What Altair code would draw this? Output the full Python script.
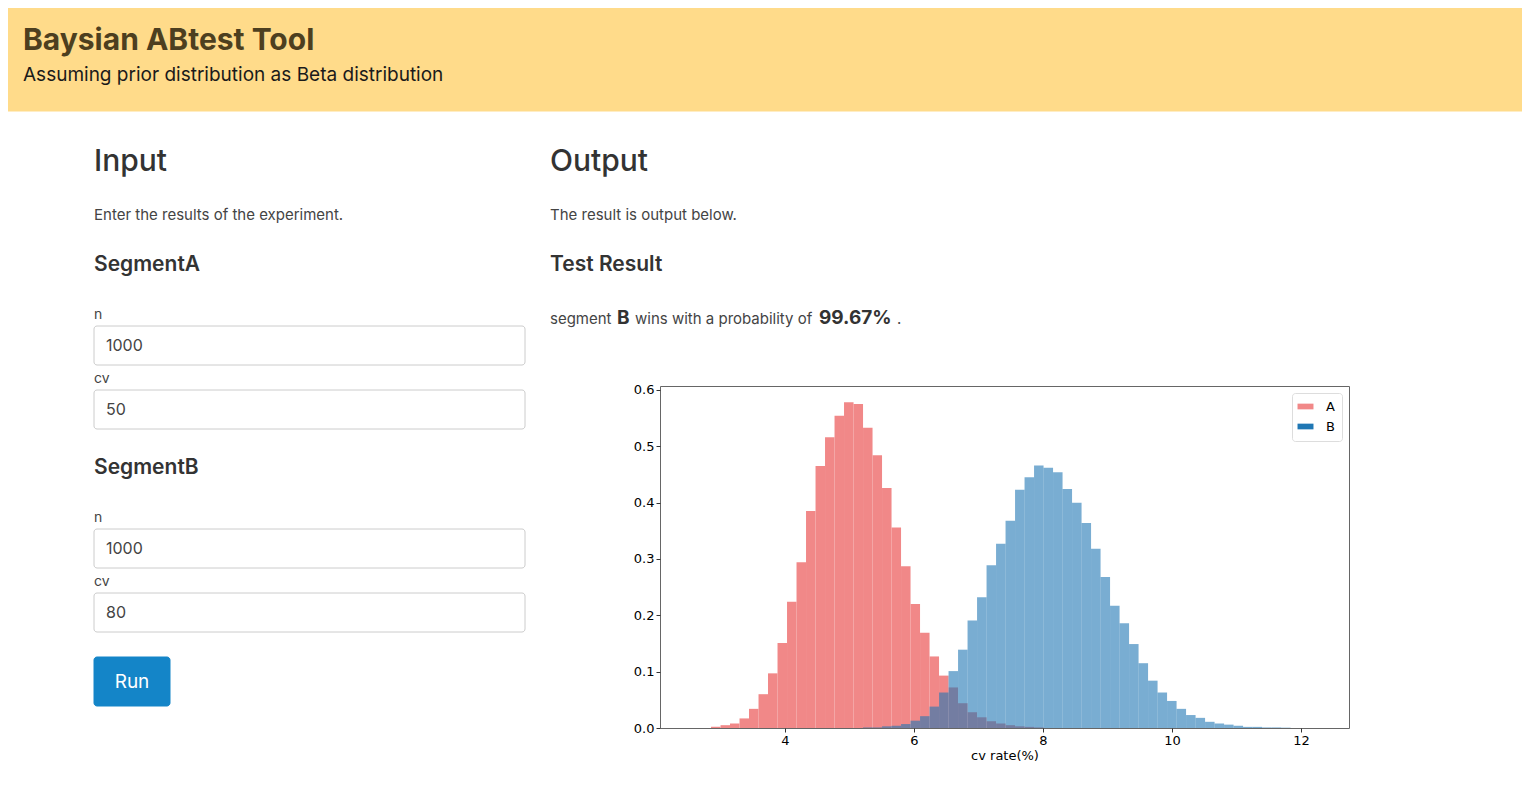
import altair as alt
import numpy as np
import pandas as pd

# histogram data (density per bin)
bin_start = 2.853
bin_width = 0.1473
a_values = [0.002, 0.005, 0.008, 0.017, 0.034, 0.060, 0.097, 0.151, 0.224, 0.294,
            0.385, 0.465, 0.516, 0.554, 0.578, 0.575, 0.533, 0.484, 0.426, 0.356,
            0.287, 0.220, 0.169, 0.127, 0.093, 0.072, 0.044, 0.028, 0.019, 0.012,
            0.008, 0.005, 0.003, 0.002, 0.001]
b_offset = 16
b_values = [0.001, 0.001, 0.003, 0.004, 0.007, 0.013, 0.021, 0.038, 0.063,
            0.101, 0.139, 0.191, 0.232, 0.289, 0.327, 0.368, 0.423, 0.445, 0.466,
            0.462, 0.454, 0.424, 0.400, 0.364, 0.318, 0.268, 0.217, 0.186, 0.149,
            0.115, 0.084, 0.063, 0.048, 0.034, 0.023, 0.018, 0.011, 0.008, 0.006,
            0.004, 0.002, 0.002, 0.001, 0.001, 0.0006]
x_ticks = [4, 6, 8, 10, 12]
y_ticks = [0.0, 0.1, 0.2, 0.3, 0.4, 0.5, 0.6]


def hist_df(values, offset, seg):
    idx = np.arange(len(values)) + offset
    return pd.DataFrame({"start": bin_start + idx * bin_width,
                         "end": bin_start + (idx + 1) * bin_width,
                         "value": values, "zero": 0.0, "segment": seg})


df = pd.concat([hist_df(a_values, 0, "A"), hist_df(b_values, b_offset, "B")])

FONT = "Inter"
OX, OY = 660, 386  # page position of the plot area


color = alt.Color("segment:N",
                  scale=alt.Scale(domain=["A", "B"], range=["#F18888", "#1F77B4"]),
                  legend=alt.Legend(title=None, orient="top-right", offset=7,
                                    strokeColor="#dddddd", cornerRadius=3, padding=7,
                                    symbolType="M-1.4,-0.5L1.4,-0.5L1.4,0.5L-1.4,0.5Z",
                                    symbolSize=130, symbolStrokeWidth=0,
                                    labelFontSize=13, labelColor="black",
                                    labelFont="DejaVu Sans", labelOffset=14,
                                    rowPadding=6))

base = alt.Chart(df).encode(
    x=alt.X("start:Q", scale=alt.Scale(domain=[2.062, 12.744], nice=False),
            axis=alt.Axis(values=x_ticks, title="cv rate(%)", grid=False)),
    x2="end:Q",
    y=alt.Y("value:Q", scale=alt.Scale(domain=[0, 0.607], nice=False),
            axis=alt.Axis(values=y_ticks, title=None, grid=False, format=".1f")),
    y2="zero:Q",
    color=color,
)
bars_a = base.transform_filter("datum.segment == 'A'").mark_bar(opacity=1)
bars_b = base.transform_filter("datum.segment == 'B'").mark_bar(opacity=0.6)


def text(s, x, y, size, weight="normal", col="#333333", align="left"):
    return alt.Chart(pd.DataFrame({"t": [s]})).mark_text(
        align=align, baseline="middle", fontSize=size, fontWeight=weight,
        font=FONT, color=col
    ).encode(x=alt.value(x - OX), y=alt.value(y - OY), text="t:N")


def box(x1, x2, y1, y2, fill="white", stroke="#cccccc", r=3):
    return alt.Chart(pd.DataFrame({"k": [0]})).mark_rect(
        fill=fill, stroke=stroke, cornerRadius=r, strokeWidth=1
    ).encode(x=alt.value(x1 - OX), x2=alt.value(x2 - OX),
             y=alt.value(y1 - OY), y2=alt.value(y2 - OY))


page = [
    box(8, 1522, 8, 111, fill="#FFDB8A", stroke="#FFDB8A", r=0),
    text("Baysian ABtest Tool", 23, 41, 30, "bold", "#4D3F1F"),
    text("Assuming prior distribution as Beta distribution", 23, 75, 19, "normal", "#1a1a1a"),
    text("Input", 94, 162, 30, 500),
    text("Enter the results of the experiment.", 94, 215, 15, "normal", "#444444"),
    text("SegmentA", 94, 265, 21, 600),
    text("n", 94, 315, 14, "normal", "#444444"),
    box(94, 525, 326, 365), text("1000", 106, 346, 16, "normal", "#444444"),
    text("cv", 94, 379, 14, "normal", "#444444"),
    box(94, 525, 390, 429), text("50", 106, 410, 16, "normal", "#444444"),
    text("SegmentB", 94, 468, 21, 600),
    text("n", 94, 518, 14, "normal", "#444444"),
    box(94, 525, 529, 568), text("1000", 106, 549, 16, "normal", "#444444"),
    text("cv", 94, 582, 14, "normal", "#444444"),
    box(94, 525, 593, 632), text("80", 106, 613, 16, "normal", "#444444"),
    box(94, 170, 657, 706, fill="#1485C8", stroke="#1485C8"),
    text("Run", 132, 682, 19, "normal", "white", "center"),
    text("Output", 550, 162, 30, 500),
    text("The result is output below.", 550, 215, 15, "normal", "#444444"),
    text("Test Result", 550, 265, 21, 600),
    text("segment", 550, 319, 15, "normal", "#444444"),
    text("B", 617, 318, 19, "bold"),
    text("wins with a probability of", 635, 319, 15, "normal", "#444444"),
    text("99.67%", 819, 318, 19, "bold"),
    text(".", 897, 319, 15, "normal", "#444444"),
]

chart = alt.layer(*page, bars_a, bars_b).properties(
    width=689, height=342,
    autosize=alt.AutoSizeParams(type="none"),
    padding={"left": 652, "top": 378, "right": 173, "bottom": 40},
).configure_view(stroke="#666666", strokeWidth=1).configure_axis(
    domain=False, tickColor="#333333", tickSize=4, labelFontSize=13,
    labelColor="black", labelFont="DejaVu Sans", titleFont="DejaVu Sans",
    titleFontSize=13, titleFontWeight="normal", titleColor="black", titlePadding=2,
).configure_legend(fillColor="white")

chart.save("out.html", embed_options={"renderer": "svg", "actions": False})
